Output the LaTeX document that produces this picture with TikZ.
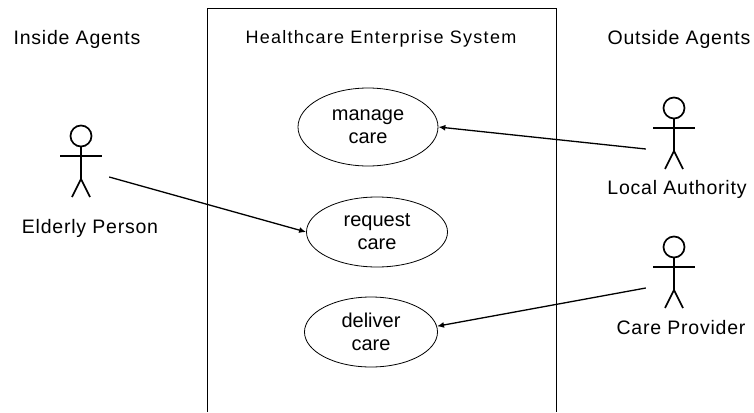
\documentclass[tikz,border=0pt]{standalone}
\usepackage{fontspec}
\setmainfont{Liberation Sans}
\newfontfamily\thinfont[LetterSpace=7]{Liberation Sans}
\newfontfamily\agentfont[LetterSpace=4]{Liberation Sans}
\usetikzlibrary{shapes.geometric,arrows.meta}

\begin{document}
\begin{tikzpicture}[x=1pt,y=-1pt,
  usecase/.style={ellipse,draw,line width=0.8pt,inner sep=0pt,align=center,
    font=\fontsize{20}{23}\selectfont},
  heading/.style={font=\agentfont\fontsize{19.5}{22}\selectfont},
  systitle/.style={font=\thinfont\fontsize{18}{20}\selectfont},
  stick/.style={line width=1.7pt},
  actorbox/.style={minimum width=56pt,minimum height=24pt,inner sep=0pt},
  assoc/.style={line width=1.3pt,-{Latex[length=7pt,width=6pt]}}]
\useasboundingbox (0,0) rectangle (754,412);

% system boundary
\draw[line width=1pt] (207,412) -- (207,9) -- (556,9) -- (556,412);
\node[systitle] (system) at (381,39) {Healthcare Enterprise System};
\node[heading] (inside) at (77,39) {Inside Agents};
\node[heading] (outside) at (679,39) {Outside Agents};

% use cases
\node[usecase,minimum width=140pt,minimum height=78pt] (manage) at (368,127) {manage\\care};
\node[usecase,minimum width=141pt,minimum height=70pt] (request) at (377,232) {request\\care};
\node[usecase,minimum width=133pt,minimum height=70pt] (deliver) at (371,332) {deliver\\care};

% actors
\foreach \n/\px/\py in {elderly/81/166, authority/674/138, provider/674/277} {
  \begin{scope}[shift={(\px,\py)}]
    \draw[stick] (0,-30) circle[radius=10.5pt];
    \draw[stick] (0,-19.5) -- (0,13);
    \draw[stick] (-21,-10) -- (21,-10);
    \draw[stick] (-9,31) -- (0,13) -- (9,31);
    \node[actorbox] (\n) at (0,11) {};
  \end{scope}
}
\node[heading] (elderlylabel) at (90,228) {Elderly Person};
\node[heading] (authoritylabel) at (677,189) {Local Authority};
\node[heading] (providerlabel) at (681,328) {Care Provider};

% associations
\draw[assoc] (elderly.east) -- (request.west);
\draw[assoc] (authority.west) -- (manage.east);
\draw[assoc] (provider.west) -- (deliver.5);
\end{tikzpicture}
\end{document}
